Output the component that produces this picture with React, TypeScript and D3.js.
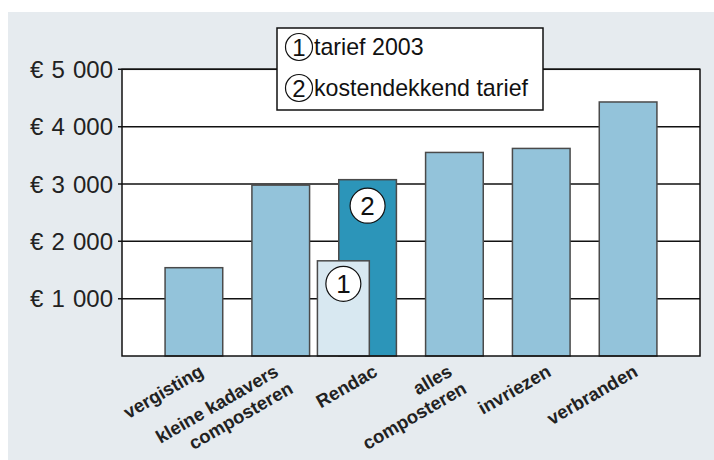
import React, { useRef, useEffect } from "react";
import * as d3 from "d3";

// category labels (line breaks split into two rows)
const categories = [
  "vergisting",
  "kleine kadavers\ncomposteren",
  "Rendac",
  "alles\ncomposteren",
  "invriezen",
  "verbranden",
];
// cost per category, euro
const costs = [1540, 2980, 3075, 3550, 3620, 4430];
// Rendac tariff 2003 (light bar in front of Rendac)
const tariff2003 = 1660;
const tariffCategory = "Rendac";
const yTicks = [1000, 2000, 3000, 4000, 5000];
const legendItems = ["tarief 2003", "kostendekkend tarief"];

const FONT = "'Liberation Sans', Arial, sans-serif";

const App: React.FC = () => {
  const svgRef = useRef<SVGSVGElement>(null);

  useEffect(() => {
    if (!svgRef.current) return;
    const svg = d3.select(svgRef.current);
    svg.selectAll("*").remove();

    const width = 714;
    const height = 460;
    const plot = { left: 122, right: 700, top: 69.3, bottom: 356 };

    // background panel
    svg
      .append("rect")
      .attr("x", 8)
      .attr("y", 12)
      .attr("width", width - 8)
      .attr("height", height - 12)
      .attr("fill", "#e6ebef");

    svg
      .append("rect")
      .attr("x", plot.left)
      .attr("y", plot.top)
      .attr("width", plot.right - plot.left)
      .attr("height", plot.bottom - plot.top)
      .attr("fill", "white");

    const x = d3
      .scaleBand<string>()
      .domain(categories)
      .range([plot.left, plot.right])
      .paddingInner(0.336)
      .paddingOuter(0.496);

    const y = d3
      .scaleLinear()
      .domain([0, 5000])
      .range([plot.bottom, plot.top]);

    // grid lines
    svg
      .append("g")
      .selectAll("line")
      .data(yTicks)
      .enter()
      .append("line")
      .attr("x1", plot.left - 4)
      .attr("x2", plot.right)
      .attr("y1", (d) => y(d))
      .attr("y2", (d) => y(d))
      .attr("stroke", "#111")
      .attr("stroke-width", 1.5);

    // y tick labels
    const fmt = (v: number) => "€ " + d3.format(",")(v).replace(/,/g, " ");
    svg
      .append("g")
      .selectAll("text")
      .data(yTicks)
      .enter()
      .append("text")
      .attr("x", plot.left - 9)
      .attr("y", (d) => y(d))
      .attr("dy", "0.36em")
      .attr("text-anchor", "end")
      .attr("font-family", FONT)
      .attr("font-size", 24)
      .attr("word-spacing", 1.5)
      .attr("fill", "#222")
      .text(fmt);

    // bars
    const barColor = (c: string) => (c === tariffCategory ? "#2c95b9" : "#93c3da");
    svg
      .append("g")
      .selectAll("rect")
      .data(categories)
      .enter()
      .append("rect")
      .attr("x", (d) => x(d)!)
      .attr("y", (d, i) => y(costs[i]))
      .attr("width", x.bandwidth())
      .attr("height", (d, i) => plot.bottom - y(costs[i]))
      .attr("fill", barColor)
      .attr("stroke", "#4a4a4a")
      .attr("stroke-width", 1.5);

    // tariff 2003 bar in front of Rendac
    const bw = x.bandwidth();
    const tx = x(tariffCategory)! - 0.37 * bw;
    const tw = 0.9 * bw;
    svg
      .append("rect")
      .attr("x", tx)
      .attr("y", y(tariff2003))
      .attr("width", tw)
      .attr("height", plot.bottom - y(tariff2003))
      .attr("fill", "#d8e8f1")
      .attr("stroke", "#4a4a4a")
      .attr("stroke-width", 1.5);

    const marker = (cx: number, cy: number, r: number, label: string, size: number) => {
      svg
        .append("circle")
        .attr("cx", cx)
        .attr("cy", cy)
        .attr("r", r)
        .attr("fill", "white")
        .attr("stroke", "#111")
        .attr("stroke-width", 1.2);
      svg
        .append("text")
        .attr("x", cx)
        .attr("y", cy)
        .attr("dy", "0.36em")
        .attr("text-anchor", "middle")
        .attr("font-family", FONT)
        .attr("font-size", size)
        .attr("fill", "#111")
        .text(label);
    };

    const rendacIdx = categories.indexOf(tariffCategory);
    marker(x(tariffCategory)! + bw / 2, y(costs[rendacIdx]) + 26, 17.5, "2", 26);
    marker(tx + tw / 2, y(tariff2003) + 23, 17.5, "1", 26);

    // plot frame
    svg
      .append("rect")
      .attr("x", plot.left)
      .attr("y", plot.top)
      .attr("width", plot.right - plot.left)
      .attr("height", plot.bottom - plot.top)
      .attr("fill", "none")
      .attr("stroke", "#111")
      .attr("stroke-width", 1.5);

    // x labels, rotated
    const angle = -30;
    const lh = 22;
    categories.forEach((c) => {
      const lines = c.split("\n");
      const cx = x(c)! + bw / 2 + 11 - (lines.length - 1) * 12;
      const cy = 375;
      const g = svg
        .append("g")
        .attr("transform", `translate(${cx},${cy}) rotate(${angle})`);
      lines.forEach((ln, j) => {
        g.append("text")
          .attr("x", j * 4)
          .attr("y", j * lh)
          .attr("text-anchor", "end")
          .attr("font-family", FONT)
          .attr("font-weight", "bold")
          .attr("font-size", 18.5)
          .attr("fill", "#222")
          .text(ln);
      });
    });

    // legend
    const lg = svg.append("g");
    lg.append("rect")
      .attr("x", 277)
      .attr("y", 28)
      .attr("width", 266)
      .attr("height", 82)
      .attr("fill", "white")
      .attr("stroke", "#111")
      .attr("stroke-width", 1.5);
    legendItems.forEach((t, i) => {
      const cy = 47 + i * 41;
      lg.append("circle")
        .attr("cx", 299)
        .attr("cy", cy)
        .attr("r", 13.5)
        .attr("fill", "white")
        .attr("stroke", "#111")
        .attr("stroke-width", 1.2);
      lg.append("text")
        .attr("x", 299)
        .attr("y", cy)
        .attr("dy", "0.36em")
        .attr("text-anchor", "middle")
        .attr("font-family", FONT)
        .attr("font-size", 24)
        .attr("fill", "#111")
        .text(String(i + 1));
      lg.append("text")
        .attr("x", 314)
        .attr("y", cy)
        .attr("dy", "0.36em")
        .attr("font-family", FONT)
        .attr("font-size", 23.2)
        .attr("fill", "#111")
        .text(t);
    });
  }, []);

  return (
    <svg
      ref={svgRef}
      width={714}
      height={460}
      style={{ position: "absolute", left: 0, top: 0, background: "white" }}
    />
  );
};

export default App;
